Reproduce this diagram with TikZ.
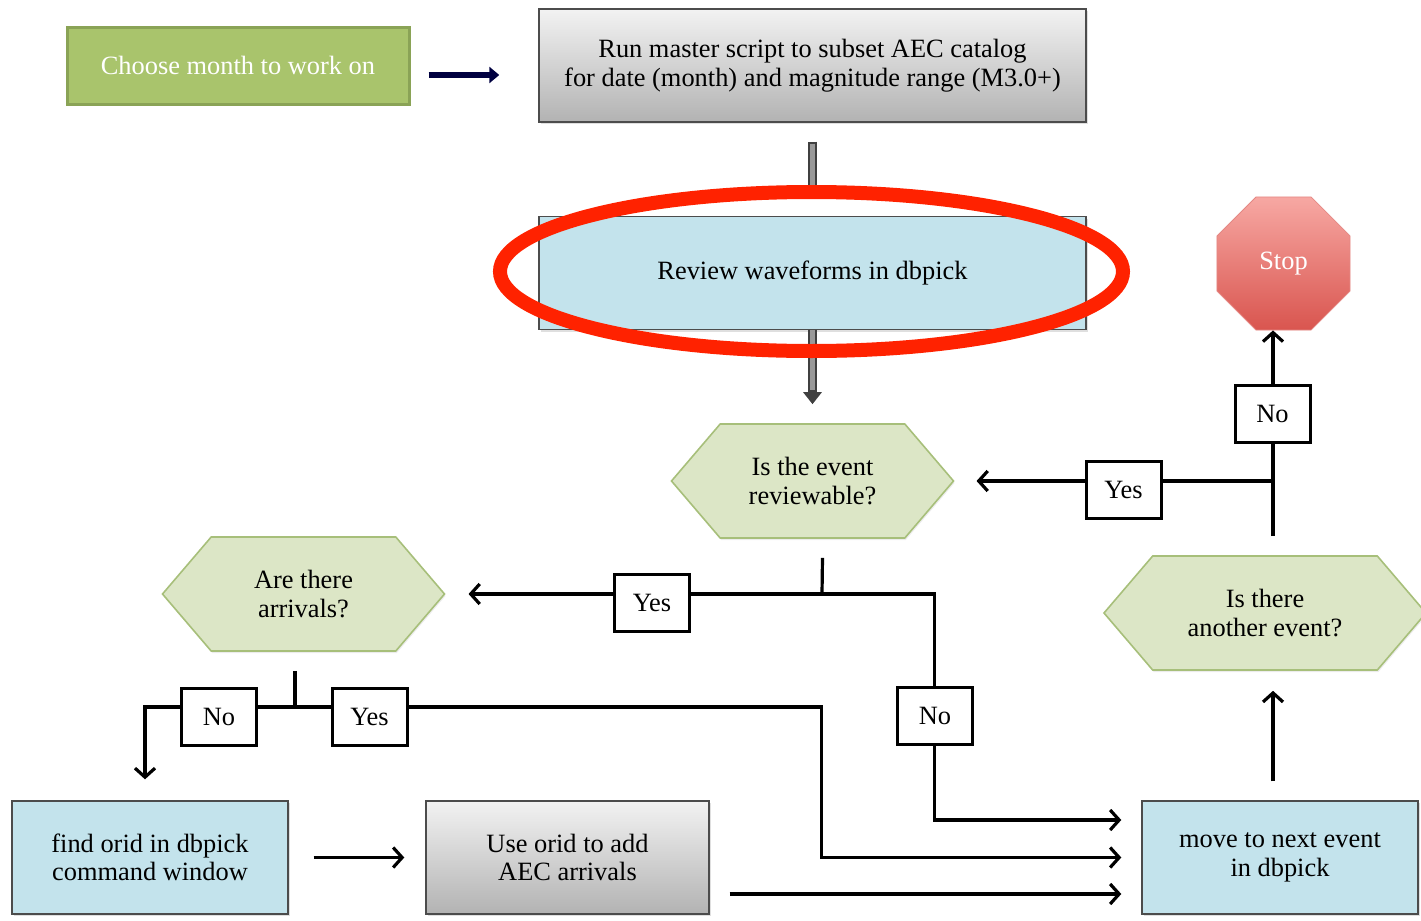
\documentclass[tikz,border=0pt]{standalone}
\usepackage{fontspec}
\setmainfont{Liberation Serif}
\usetikzlibrary{positioning,calc,arrows.meta,shapes.symbols,shapes.geometric,shadows}
\definecolor{boxblue}{HTML}{C3E3EC}
\definecolor{hexfill}{HTML}{DCE6C6}
\definecolor{hexline}{HTML}{A7BF7A}
\definecolor{choosegreen}{HTML}{A9C46C}
\definecolor{choosedark}{HTML}{8AA356}
\definecolor{stoptop}{HTML}{F7A8A3}
\definecolor{stopbot}{HTML}{D9554F}
\definecolor{ringred}{HTML}{FF2200}

\begin{document}
\begin{tikzpicture}[x=0.5pt, y=-0.5pt, font=\fontsize{13.2}{14.2}\selectfont,
        block/.style={rectangle, draw=black!70, line width=0.7pt, align=center, minimum width=273.5pt, minimum height=56.5pt,
            drop shadow={opacity=0.25, shadow xshift=1pt, shadow yshift=-1pt}},
        greybox/.style={block, top color=black!5, bottom color=black!30},
        bluebox/.style={block, fill=boxblue},
        decision/.style={signal, signal to=east and west, signal pointer angle=99, draw=hexline, fill=hexfill, line width=0.8pt,
            align=center, minimum width=141pt, minimum height=57pt, inner sep=1pt,
            drop shadow={opacity=0.15, shadow xshift=0.5pt, shadow yshift=-1pt}},
        stopsign/.style={regular polygon, regular polygon sides=8, minimum size=72pt, top color=stoptop, bottom color=stopbot,
            draw=stopbot!70, text=white},
        tag/.style={rectangle, draw, line width=1.5pt, fill=white, minimum width=37.5pt, minimum height=28.5pt, inner sep=1pt},
        line/.style={draw, line width=1.6pt, -{Straight Barb[length=4.5pt,width=10pt]}},
        wire/.style={draw, line width=1.6pt},
        fat/.style={draw=blue!25!black, line width=3pt, -{Triangle[length=5pt,width=8pt]}},
        shaft/.style={draw=black!75, line width=4.2pt}]

    \useasboundingbox (0,0) rectangle (1421,921);

    % top row and middle column
    \node [block, fill=choosegreen, draw=choosedark, line width=1.5pt, text=white, minimum width=171pt, minimum height=38.5pt] (choose) at (238,65.5) {Choose month to work on};
    \node [greybox] (run) at (812.5,65.5) {Run master script to subset AEC catalog\\for date (month) and magnitude range (M3.0+)};
    \node [bluebox, below of=run, node distance=103.75pt] (review) {Review waveforms in dbpick};
    \node [decision, below of=review, node distance=104pt] (reviewable) {Is the event\\reviewable?};

    % right column
    \node [stopsign] (stop) at (1283.5,263.5) {Stop};
    \node [decision, minimum width=161pt] (another) at (1265,613) {Is there\\another event?};
    \node [bluebox, minimum width=138pt] (move) at (1280,857.5) {move to next event\\in dbpick};

    % left side
    \node [decision] (arrivals) at (303.5,594) {Are there\\arrivals?};
    \node [bluebox, minimum width=138pt] (find) at (150,857.5) {find orid in dbpick\\command window};
    \node [greybox, minimum width=141.5pt, right of=find, node distance=208.75pt] (useorid) {Use orid to add\\AEC arrivals};

    \coordinate (jstop) at (1273,481);
    \coordinate (jrev) at (822,594);
    \coordinate (jarr) at (295,707);

    \draw [fat] ($(choose.east)+(18,9.5)$) -- ($(run.west)+(-39,9.5)$);
    \draw [shaft] ($(run.south)+(0,19)$) -- ($(review.north)+(0,-18)$);
    \draw [shaft, -{Triangle[length=6pt,width=9pt]}] (review.south) -- ($(reviewable.north)+(0,-19)$);
    \draw [draw=black!40, line width=2.2pt] ($(run.south)+(0,21)$) -- ($(review.north)+(0,-18)$);
    \draw [draw=black!40, line width=2.2pt] (review.south) -- ($(reviewable.north)+(0,-33)$);

    \draw [wire] ($(reviewable.south)+(10,19)$) -- (jrev);
    \draw [line] (jrev) -- ($(arrivals.east)+(23,0)$);
    \draw [line] (jrev) -| ($(move.west)+(-207,-37.5)$) -- ($(move.west)+(-20,-37.5)$);
    \draw [wire] ($(arrivals.south)+(-8.5,19)$) -- (jarr);
    \draw [line] (jarr) -| ($(find.north)+(-5,-21)$);
    \draw [line] (jarr) -| ($(move.west)+(-320,0)$) -- ($(move.west)+(-20,0)$);
    \draw [line] ($(find.east)+(25,0)$) -- ($(useorid.west)+(-21,0)$);
    \draw [line] ($(useorid.east)+(20,36.5)$) -- ($(move.west)+(-20,36.5)$);
    \draw [line] ($(move.north)+(-7,-19)$) -- ($(another.south)+(8,20)$);
    \draw [line] ($(another.north)+(8,-19)$) -- (jstop |- stop.south);
    \draw [line] (jstop) -- ($(reviewable.east)+(22,0)$);

    % answers on the lines
    \node [tag] (yes1) at (1123.5,489.5) {Yes};
    \node [tag] (no1) at (1272.5,414) {No};
    \node [tag] (yes2) at (652,602.5) {Yes};
    \node [tag] (no2) at (935,715.5) {No};
    \node [tag] (no3) at (219,716.5) {No};
    \node [tag] (yes3) at (369.5,716.5) {Yes};

    \draw [ringred, line width=7pt] ($(review.center)+(-1,-1.5)$) ellipse (311.5 and 79.5);
\end{tikzpicture}
\end{document}
